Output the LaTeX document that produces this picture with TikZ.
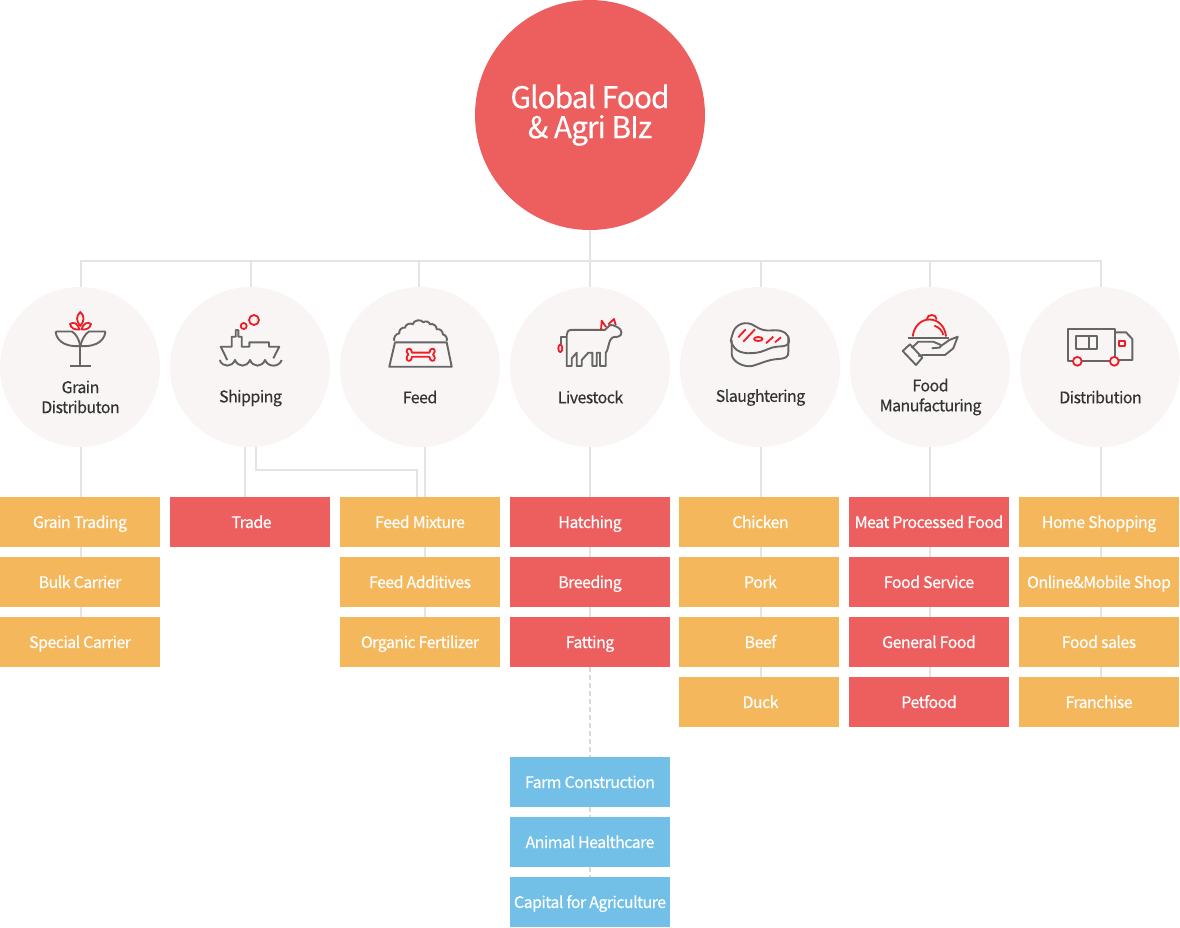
\documentclass[tikz,border=0pt]{standalone}
\usepackage{fontspec}
\setmainfont[LetterSpace=-3.5,FakeBold=0.2]{Noto Sans CJK KR}
\newcommand\nudge{\hspace*{3pt}}
\definecolor{orangebox}{HTML}{F5B75C}
\definecolor{redbox}{HTML}{ED5F5F}
\definecolor{bluebox}{HTML}{72C0E8}
\definecolor{disc}{HTML}{F8F5F4}
\definecolor{linkc}{HTML}{E4E4E4}
\definecolor{dashc}{HTML}{D9D9D9}
\definecolor{icong}{HTML}{666666}
\definecolor{iconr}{HTML}{EE1C25}
\definecolor{labelc}{HTML}{333333}
\tikzset{
 item/.style={minimum width=160pt,minimum height=50pt,inner sep=0pt,text=white,
   font=\fontsize{16}{20}\selectfont,text height=12pt,text depth=0pt},
 orangeitem/.style={item,fill=orangebox},
 reditem/.style={item,fill=redbox},
 blueitem/.style={item,fill=bluebox},
 cat/.style={circle,fill=disc,minimum size=160pt,inner sep=0pt},
 catlabel/.style={inner sep=0pt,text=labelc,align=center,font=\fontsize{16}{20}\selectfont},
 link/.style={draw=linkc,line width=2pt},
 dashlink/.style={draw=dashc,line width=2pt,dash pattern=on 5pt off 3pt},
 ig/.style={draw=icong,line width=1.9pt,line join=round},
 ir/.style={draw=iconr,line width=1.8pt,line join=round},
}
\begin{document}
\begin{tikzpicture}[x=1pt,y=-1pt]
\useasboundingbox (0,0) rectangle (1180,927);
% root
\node[circle,fill=redbox,minimum size=230pt,inner sep=0pt,text=white,align=center,
  font=\fontsize{30}{30}\selectfont] (root) at (590,115) {Global Food\\\& Agri BIz};
% category discs
\foreach \n/\x in {1/80,2/250,3/420,4/590,5/760,6/930,7/1100}
  \node[cat] (c\n) at (\x,367) {};
% bus coordinates
\coordinate (busc) at (590,261);
\coordinate (s1) at (81,261);
\coordinate (s2) at (251,261);
\coordinate (s3) at (419,261);
\coordinate (s4) at (590,261);
\coordinate (s5) at (761,261);
\coordinate (s6) at (930,261);
\coordinate (s7) at (1101,261);
\coordinate (d1) at (81,447);
\coordinate (d2a) at (245,447);
\coordinate (d2b) at (256,447);
\coordinate (d3) at (425,447);
\coordinate (d4) at (590,447);
\coordinate (d5) at (761,447);
\coordinate (d6) at (930,447);
\coordinate (d7) at (1101,447);
\coordinate (t3) at (417,470);
% boxes
\node[orangeitem] (a1) at (80,522) {Grain Trading};
\node[orangeitem] (a2) at (80,582) {Bulk Carrier};
\node[orangeitem] (a3) at (80,642) {Special Carrier};
\node[reditem] (b1) at (250,522) {\nudge Trade};
\node[orangeitem] (f1) at (420,522) {Feed Mixture};
\node[orangeitem] (f2) at (420,582) {Feed Additives};
\node[orangeitem] (f3) at (420,642) {Organic Fertilizer};
\node[reditem] (l1) at (590,522) {Hatching};
\node[reditem] (l2) at (590,582) {Breeding};
\node[reditem] (l3) at (590,642) {Fatting};
\node[blueitem] (u1) at (590,782) {Farm Construction};
\node[blueitem] (u2) at (590,842) {Animal Healthcare};
\node[blueitem] (u3) at (590,902) {Capital for Agriculture};
\node[orangeitem] (m1) at (759,522) {\nudge Chicken};
\node[orangeitem] (m2) at (759,582) {\nudge Pork};
\node[orangeitem] (m3) at (759,642) {\nudge Beef};
\node[orangeitem] (m4) at (759,702) {\nudge Duck};
\node[reditem] (p1) at (929,522) {Meat Processed Food};
\node[reditem] (p2) at (929,582) {Food Service};
\node[reditem] (p3) at (929,642) {General Food};
\node[reditem] (p4) at (929,702) {Petfood};
\node[orangeitem] (r1) at (1099,522) {Home Shopping};
\node[orangeitem] (r2) at (1099,582) {Online\&Mobile Shop};
\node[orangeitem] (r3) at (1099,642) {Food sales};
\node[orangeitem] (r4) at (1099,702) {Franchise};
% connectors
\draw[link] (root.south) -- (busc);
\draw[link] (s1 |- c1.north) -- (s1) -- (s7) -- (s7 |- c7.north);
\foreach \n in {2,3,4,5,6} \draw[link] (s\n) -- (s\n |- c\n.north);
\draw[link] (d1) -- (d1 |- a1.north);
\draw[link] (d2a) -- (d2a |- b1.north);
\draw[link] (d2b) |- (t3) -- (t3 |- f1.north);
\draw[link] (d3) -- (d3 |- f1.north);
\draw[link] (d4) -- (l1.north);
\draw[link] (d5) -- (d5 |- m1.north);
\draw[link] (d6) -- (d6 |- p1.north);
\draw[link] (d7) -- (d7 |- r1.north);
\foreach \p/\q in {a1/a2,a2/a3} \draw[link] (\p.south -| d1) -- (\q.north -| d1);
\foreach \p/\q in {f1/f2,f2/f3} \draw[link] (\p.south -| d3) -- (\q.north -| d3);
\foreach \p/\q in {l1/l2,l2/l3} \draw[link] (\p.south) -- (\q.north);
\foreach \p/\q in {m1/m2,m2/m3,m3/m4} \draw[link] (\p.south -| d5) -- (\q.north -| d5);
\foreach \p/\q in {p1/p2,p2/p3,p3/p4} \draw[link] (\p.south -| d6) -- (\q.north -| d6);
\foreach \p/\q in {r1/r2,r2/r3,r3/r4} \draw[link] (\p.south -| d7) -- (\q.north -| d7);
\draw[dashlink] (l3.south) -- (u1.north);
\draw[dashlink] (u1.south) -- (u2.north);
\draw[dashlink] (u2.south) -- (u3.north);
% category labels
\node[catlabel] (t1) at (80.5,397) {Grain\\Distributon};
\node[catlabel] (t2) at (250.5,398) {Shipping};
\node[catlabel] (t3l) at (420,397) {Feed};
\node[catlabel] (t4) at (590.5,397) {Livestock};
\node[catlabel] (t5) at (760.5,397.5) {Slaughtering};
\node[catlabel] (t6) at (930.5,397) {Food\\Manufacturing};
\node[catlabel] (t7) at (1100.5,397) {Distribution};
% icon: plant
\draw[ig] (80.3,346) -- (80.3,366) (69.5,366) -- (91,366);
\draw[ig] (55.5,331.5) -- (72,331.5) .. controls (76,334) and (79,339) .. (80.3,346) .. controls (70,347) and (57,344) .. (55.5,331.5);
\draw[ig] (105.5,331.5) -- (89,331.5) .. controls (85,334) and (82,339) .. (80.3,346) .. controls (91,347) and (104,344) .. (105.5,331.5);
\draw[ir] (80.3,312) .. controls (76,316) and (76,321) .. (80.3,326) .. controls (84.6,321) and (84.6,316) .. (80.3,312) -- cycle;
\draw[ir] (70,324) .. controls (73,321.5) and (78,323) .. (79.5,329.5) .. controls (75,330) and (71,328.5) .. (70,324) -- cycle;
\draw[ir] (91,324) .. controls (88,321.5) and (83,323) .. (81.5,329.5) .. controls (86,330) and (90,328.5) .. (91,324) -- cycle;
% icon: ship
\draw[ig] (227.3,360) -- (220.7,346.7) -- (231.7,346.7) -- (231.7,336.7) -- (235.7,336.7) -- (235.7,330) -- (238.3,330) -- (238.3,336.7) -- (241.7,336.7) -- (241.7,346.7) -- (249.3,346.7) -- (249.3,342.3) -- (269,342.3) -- (269,346.7) -- (279.3,346.7) -- (273.3,358.3);
\draw[ig] (219.7,360) .. controls (222.5,367.5) and (232,367.5) .. (235,360) .. controls (238,367.5) and (247,367.5) .. (250,360) .. controls (253,367.5) and (262,367.5) .. (265,360) .. controls (268,367.5) and (279,367.5) .. (281.7,360);
\draw[ir] (254,320) circle[radius=5];
\draw[ir] (243.7,326) circle[radius=3];
% icon: bowl
\draw[ig] (395,342.3) -- (446.7,342.3) -- (451.7,366.7) -- (389.3,366.7) -- cycle;
\draw[ig] (394.3,341) to[bend left=50] (399.3,333.3) to[bend left=60] (405,327.7) to[bend left=60] (412.7,324.3) to[bend left=70] (423.3,322.3) to[bend left=60] (430,324.3) to[bend left=60] (436.7,329.3) to[bend left=60] (442.7,334.3) to[bend left=50] (446.7,341);
\draw[ir] (412,352.6) -- (429.5,352.6) .. controls (429.5,347.5) and (435.2,347.5) .. (434.8,351.5) .. controls (434.8,353.5) and (433.5,354) .. (433,354.7) .. controls (433.5,355.4) and (434.8,356) .. (434.8,358) .. controls (435.2,362) and (429.5,362) .. (429.5,356.8) -- (412,356.8) .. controls (412,362) and (406.2,362) .. (406.6,358) .. controls (406.6,356) and (407.9,355.4) .. (408.4,354.7) .. controls (407.9,354) and (406.6,353.5) .. (406.6,351.5) .. controls (406.2,347.5) and (412,347.5) .. (412,352.6) -- cycle;
% icon: cow
\draw[ig] (561,344) -- (561,336.7) -- (566.7,336.7);
\draw[ig] (566.7,366) -- (571.7,366) -- (571.7,358.3) -- (576.7,352.7) -- (576.7,366) -- (581.7,366) -- (581.7,360) -- (588.3,352.7) -- (592.3,352.7) -- (592.3,366) -- (596.7,366) -- (596.7,352.7) -- (600,352.7) -- (600,366) -- (605.7,366) -- (605.7,352.7) .. controls (609,350) and (608,338) .. (614,337) -- (618,336.7) .. controls (623,336) and (622,329) .. (618,327.5) .. controls (614,325.5) and (612,324.5) .. (610,325) -- (605,329.8) -- (571.7,329.8) .. controls (568,330) and (566.7,332) .. (566.7,335) -- cycle;
\draw[ir] (560.3,348.3) ellipse[x radius=2,y radius=3.8];
\draw[ir] (601,330) -- (601.7,320.7) -- (606,327);
\draw[ir] (608.3,324.3) -- (614,319) -- (615.7,325);
% icon: steak
\draw[ig] plot[smooth cycle,tension=0.7] coordinates {(731.7,337) (736.7,326.7) (748.3,323.3) (763.3,330) (780,330.7) (788.3,336.7) (786.7,345) (773.3,347.3) (756.7,352.7) (740,351.7) (731.7,343.3)};
\draw[ig] (731.7,340) -- (731.7,354) .. controls (732,362) and (744,367.5) .. (752,366) .. controls (760,364) and (768,359.5) .. (778,359) .. controls (786,358.5) and (788.3,357) .. (788.3,352) -- (788.3,337);
\draw[ir] (738.3,337.3) -- (745.7,329.3) (743.3,341.7) -- (755,329.3) (766,343.3) -- (773.3,336.7) (775,342.3) -- (781,337.3);
\draw[ir] (758.3,339) ellipse[x radius=4.3,y radius=2];
% icon: cloche
\draw[ig] (908.3,337.7) -- (949.3,337.7);
\draw[ir] (912.7,336.5) .. controls (914,326) and (921,319.5) .. (929.5,319.5) .. controls (938,319.5) and (945,326) .. (946,336.5);
\draw[ir] (926.7,319.5) .. controls (927,316.5) and (929,315) .. (931.7,315) .. controls (934.5,315) and (936.5,316.5) .. (936.7,319.5);
\draw[ir] (934.3,325.7) .. controls (939,327) and (942.5,331) .. (943.3,335);
\draw[ig] (902.7,351) -- (910,344.3) -- (922.3,357.7) -- (916,365) -- cycle;
\draw[ig] (911.7,348) -- (918.3,341.7) -- (933.3,341.7) -- (941,345) -- (940,347.5) -- (931.7,348.3);
\draw[ig] (918.3,356) -- (923,355) -- (945,355) -- (953.3,348.3) -- (957.7,336.7) -- (949.3,340) -- (941,346);
% icon: truck
\draw[ig] (1077,360.7) -- (1068.3,360.7) -- (1068.3,329) -- (1115,329) -- (1115,360.7) -- (1077,360.7);
\draw[ig] (1115,332.3) -- (1126,332.3) -- (1132.3,339) -- (1132.3,360) -- (1119,360);
\draw[ig] (1075.7,335.7) rectangle (1097.3,349);
\draw[ig] (1089.3,335.7) -- (1089.3,349);
\draw[ir,fill=disc] (1077.3,361.3) circle[radius=4.4];
\draw[ir,fill=disc] (1114.3,361.3) circle[radius=4.4];
\draw[ir] (1119,341) rectangle (1124.7,346);
\end{tikzpicture}
\end{document}
